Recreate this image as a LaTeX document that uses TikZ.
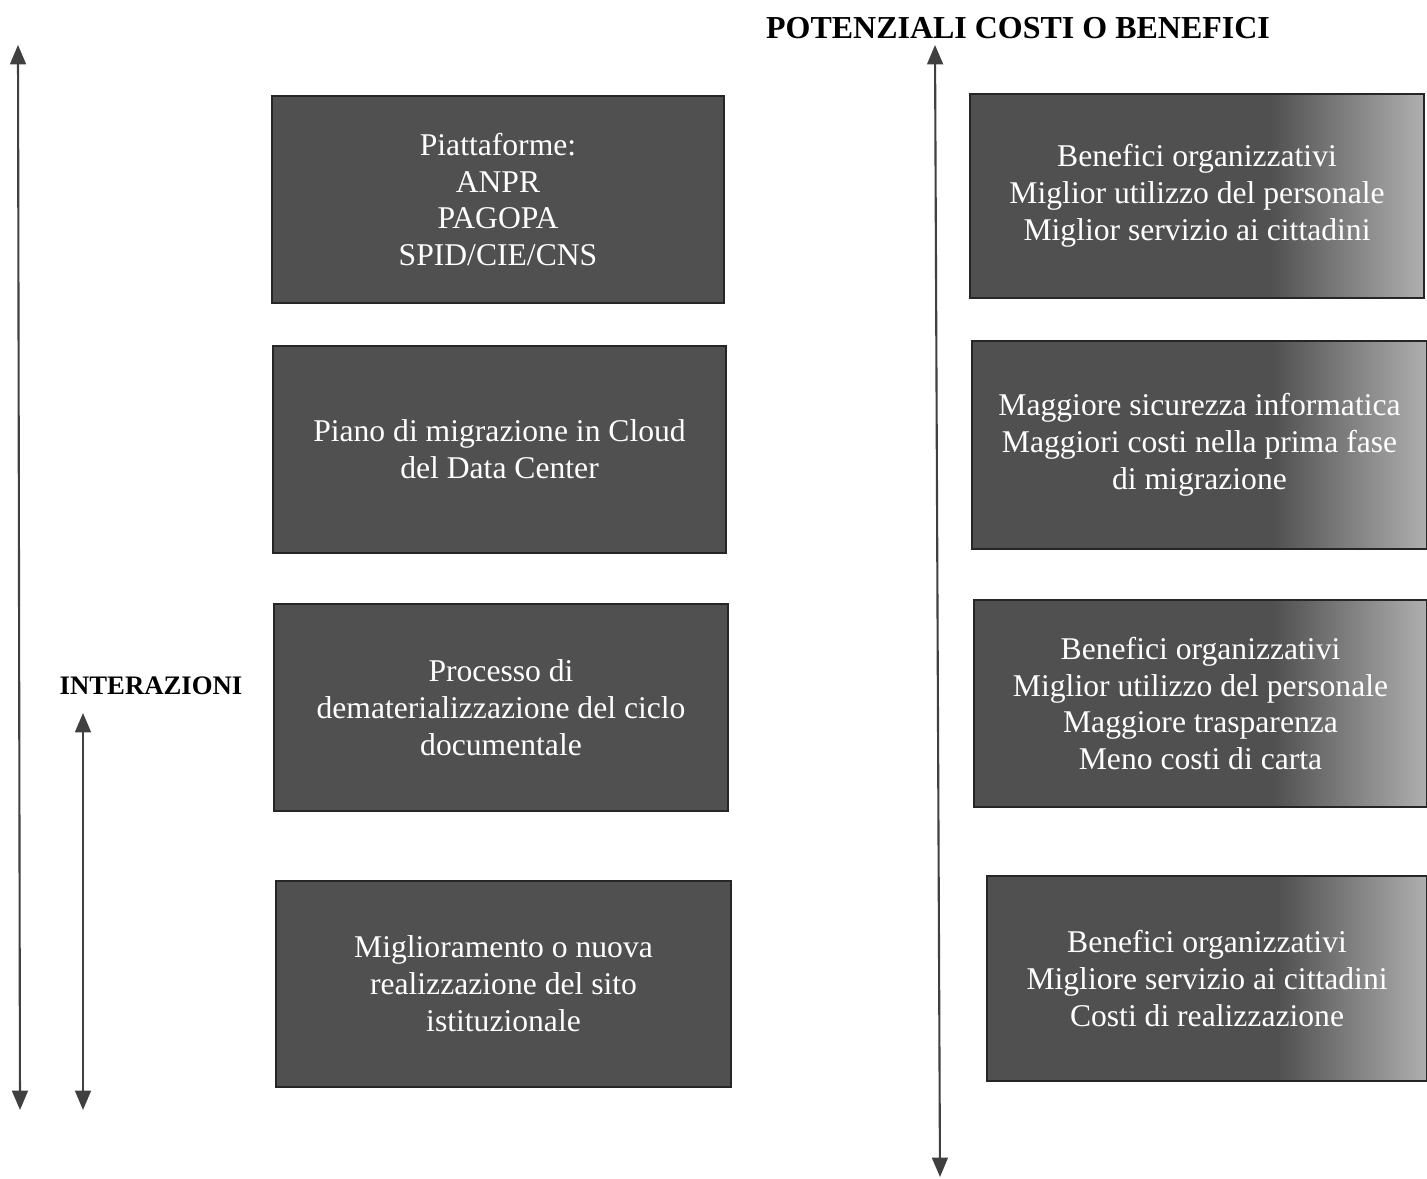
\documentclass[tikz,border=0pt]{standalone}
\usepackage{fontspec}
\setmainfont{Liberation Serif}
\usepackage{tikz}
\usetikzlibrary{positioning,arrows.meta}
\definecolor{boxgray}{RGB}{80,80,80}
\definecolor{boxlight}{RGB}{175,175,175}
\pgfdeclarehorizontalshading{boxfade}{100bp}{color(0bp)=(boxgray); color(25bp)=(boxgray); color(58bp)=(boxgray); color(75bp)=(boxlight); color(100bp)=(boxlight)}
\newcommand{\boxfont}{\fontsize{9}{10.5}\selectfont}
\tikzstyle{arrow} = [line width=0.6pt, draw=black!75, {Triangle[width=4.5pt,length=5.5pt]}-{Triangle[width=4.5pt,length=5.5pt]}]

\begin{document}
\begin{tikzpicture}
		\useasboundingbox (0,0) rectangle (14.27,11.79);
		\coordinate (piattaforme) at (4.98,9.795);
		\coordinate (cloud) at (4.995,7.295);
		\coordinate (demat) at (5.01,4.715);
		\coordinate (sito) at (5.035,1.95);
		\coordinate (benefici1) at (11.97,9.83);
		\coordinate (sicurezza) at (11.995,7.34);
		\coordinate (benefici2) at (12.005,4.755);
		\coordinate (benefici3) at (12.07,2.005);
		% axis end points
		\coordinate (intTop) at (0.18,11.34);
		\coordinate (intBot) at (0.20,0.69);
		\coordinate (intShortTop) at (0.83,4.66);
		\coordinate (intShortBot) at (0.83,0.69);
		\coordinate (costTop) at (9.35,11.34);
		\coordinate (costBot) at (9.40,0.02);
		% Interazioni
		\begin{scope}[every node/.style={draw=black!85, fill=boxgray, text=white, rectangle, minimum width=4.52cm, minimum height=2.07cm, inner sep=0pt, align=center, font=\boxfont}]
		\node[name=piattaforme] at (piattaforme) {Piattaforme:\\ANPR\\PAGOPA\\SPID/CIE/CNS};
		\node[name=cloud, minimum width=4.53cm] at (cloud) {Piano di migrazione in Cloud\\del Data Center};
		\node[name=demat, minimum width=4.54cm] at (demat) {Processo di\\dematerializzazione del ciclo\\documentale};
		\node[name=sito, minimum width=4.55cm, minimum height=2.06cm] at (sito) {Miglioramento o nuova\\realizzazione del sito\\istituzionale};
		\end{scope}
		% Costi o benefici
		\begin{scope}[every node/.style={draw=black!85, shading=boxfade, text=white, rectangle, minimum width=4.54cm, minimum height=2.06cm, inner sep=0pt, align=center, font=\boxfont}]
		\node[name=benefici1, minimum height=2.04cm] at (benefici1) {Benefici organizzativi\\Miglior utilizzo del personale\\Miglior servizio ai cittadini};
		\node[name=sicurezza, minimum width=4.55cm, minimum height=2.08cm] at (sicurezza) {Maggiore sicurezza informatica\\Maggiori costi nella prima fase\\di migrazione};
		\node[name=benefici2, minimum width=4.53cm, minimum height=2.07cm] at (benefici2) {Benefici organizzativi\\Miglior utilizzo del personale\\Maggiore trasparenza\\Meno costi di carta};
		\node[name=benefici3, minimum width=4.40cm, minimum height=2.05cm] at (benefici3) {Benefici organizzativi\\Migliore servizio ai cittadini\\Costi di realizzazione};
		\end{scope}
		% axes
		\draw [arrow] (intTop)--(intBot);
		\draw [arrow] (intShortTop)--(intShortBot);
		\draw [arrow] (costTop)--(costBot);
		% titles
		\node[name=interazioni, font=\fontsize{7.6}{9}\selectfont\bfseries] at (1.51,4.93) {INTERAZIONI};
		\node[name=potenziali, font=\fontsize{9.1}{11}\selectfont\bfseries] at (10.18,11.51) {POTENZIALI COSTI O BENEFICI};
\end{tikzpicture}
\end{document}
